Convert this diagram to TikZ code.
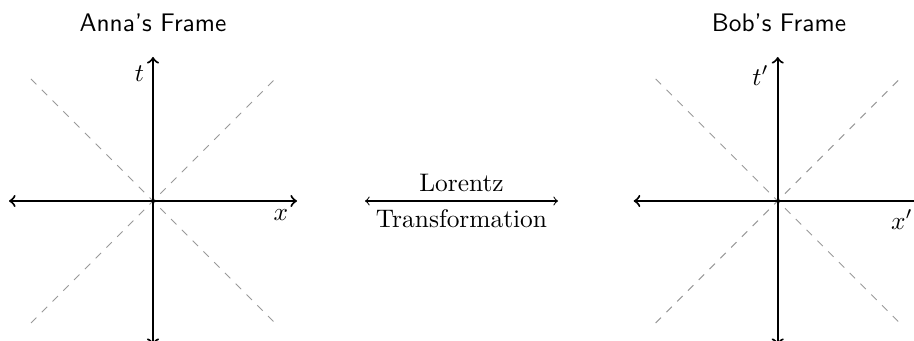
\documentclass[tikz,border=0pt]{standalone}
\begin{document}
\begin{tikzpicture}[x=0.3937pt,y=-0.3937pt,
  axisline/.style={thick,<->},
  lightline/.style={dashed,gray!80,line width=0.4pt},
  linkline/.style={<->,line width=0.4pt},
  titletext/.style={font=\sffamily}]
\useasboundingbox (0,0) rectangle (914,341);
\clip (0,0) rectangle (914,341);
% Anna's frame
\coordinate (A) at (153,201);
\coordinate (AL) at (9,201);
\coordinate (AR) at (297,201);
\coordinate (AT) at (153,57);
\coordinate (AB) at (153,345);
\coordinate (AD1) at (31,79);
\coordinate (AD2) at (275,323);
\coordinate (AD3) at (31,323);
\coordinate (AD4) at (275,79);
\draw[lightline] (AD1) -- (AD2);
\draw[lightline] (AD3) -- (AD4);
\draw[axisline] (AL) -- (AR);
\draw[axisline] (AB) -- (AT);
\node[below left] (ax) at (AR) {$x$};
\node[below left] (at) at (AT) {$t$};
\node[titletext] (atitle) at (153,23) {Anna's Frame};
% Bob's frame
\coordinate (B) at (777.7,201);
\coordinate (BL) at (633.7,201);
\coordinate (BR) at (921.7,201);
\coordinate (BT) at (777.7,57);
\coordinate (BB) at (777.7,345);
\coordinate (BD1) at (655.7,79);
\coordinate (BD2) at (899.7,323);
\coordinate (BD3) at (655.7,323);
\coordinate (BD4) at (899.7,79);
\draw[lightline] (BD1) -- (BD2);
\draw[lightline] (BD3) -- (BD4);
\draw[axisline] (BL) -- (BR);
\draw[axisline] (BB) -- (BT);
\node[below left] (bx) at (BR) {$x'$};
\node[below left] (bt) at (BT) {$t'$};
\node[titletext] (btitle) at (779,23) {Bob's Frame};
% Lorentz transformation link
\coordinate (ML) at (365,201);
\coordinate (MR) at (558,201);
\draw[linkline] (ML) -- (MR)
  node[midway,above] (lor) {Lorentz}
  node[midway,below] (trans) {Transformation};
\end{tikzpicture}
\end{document}
